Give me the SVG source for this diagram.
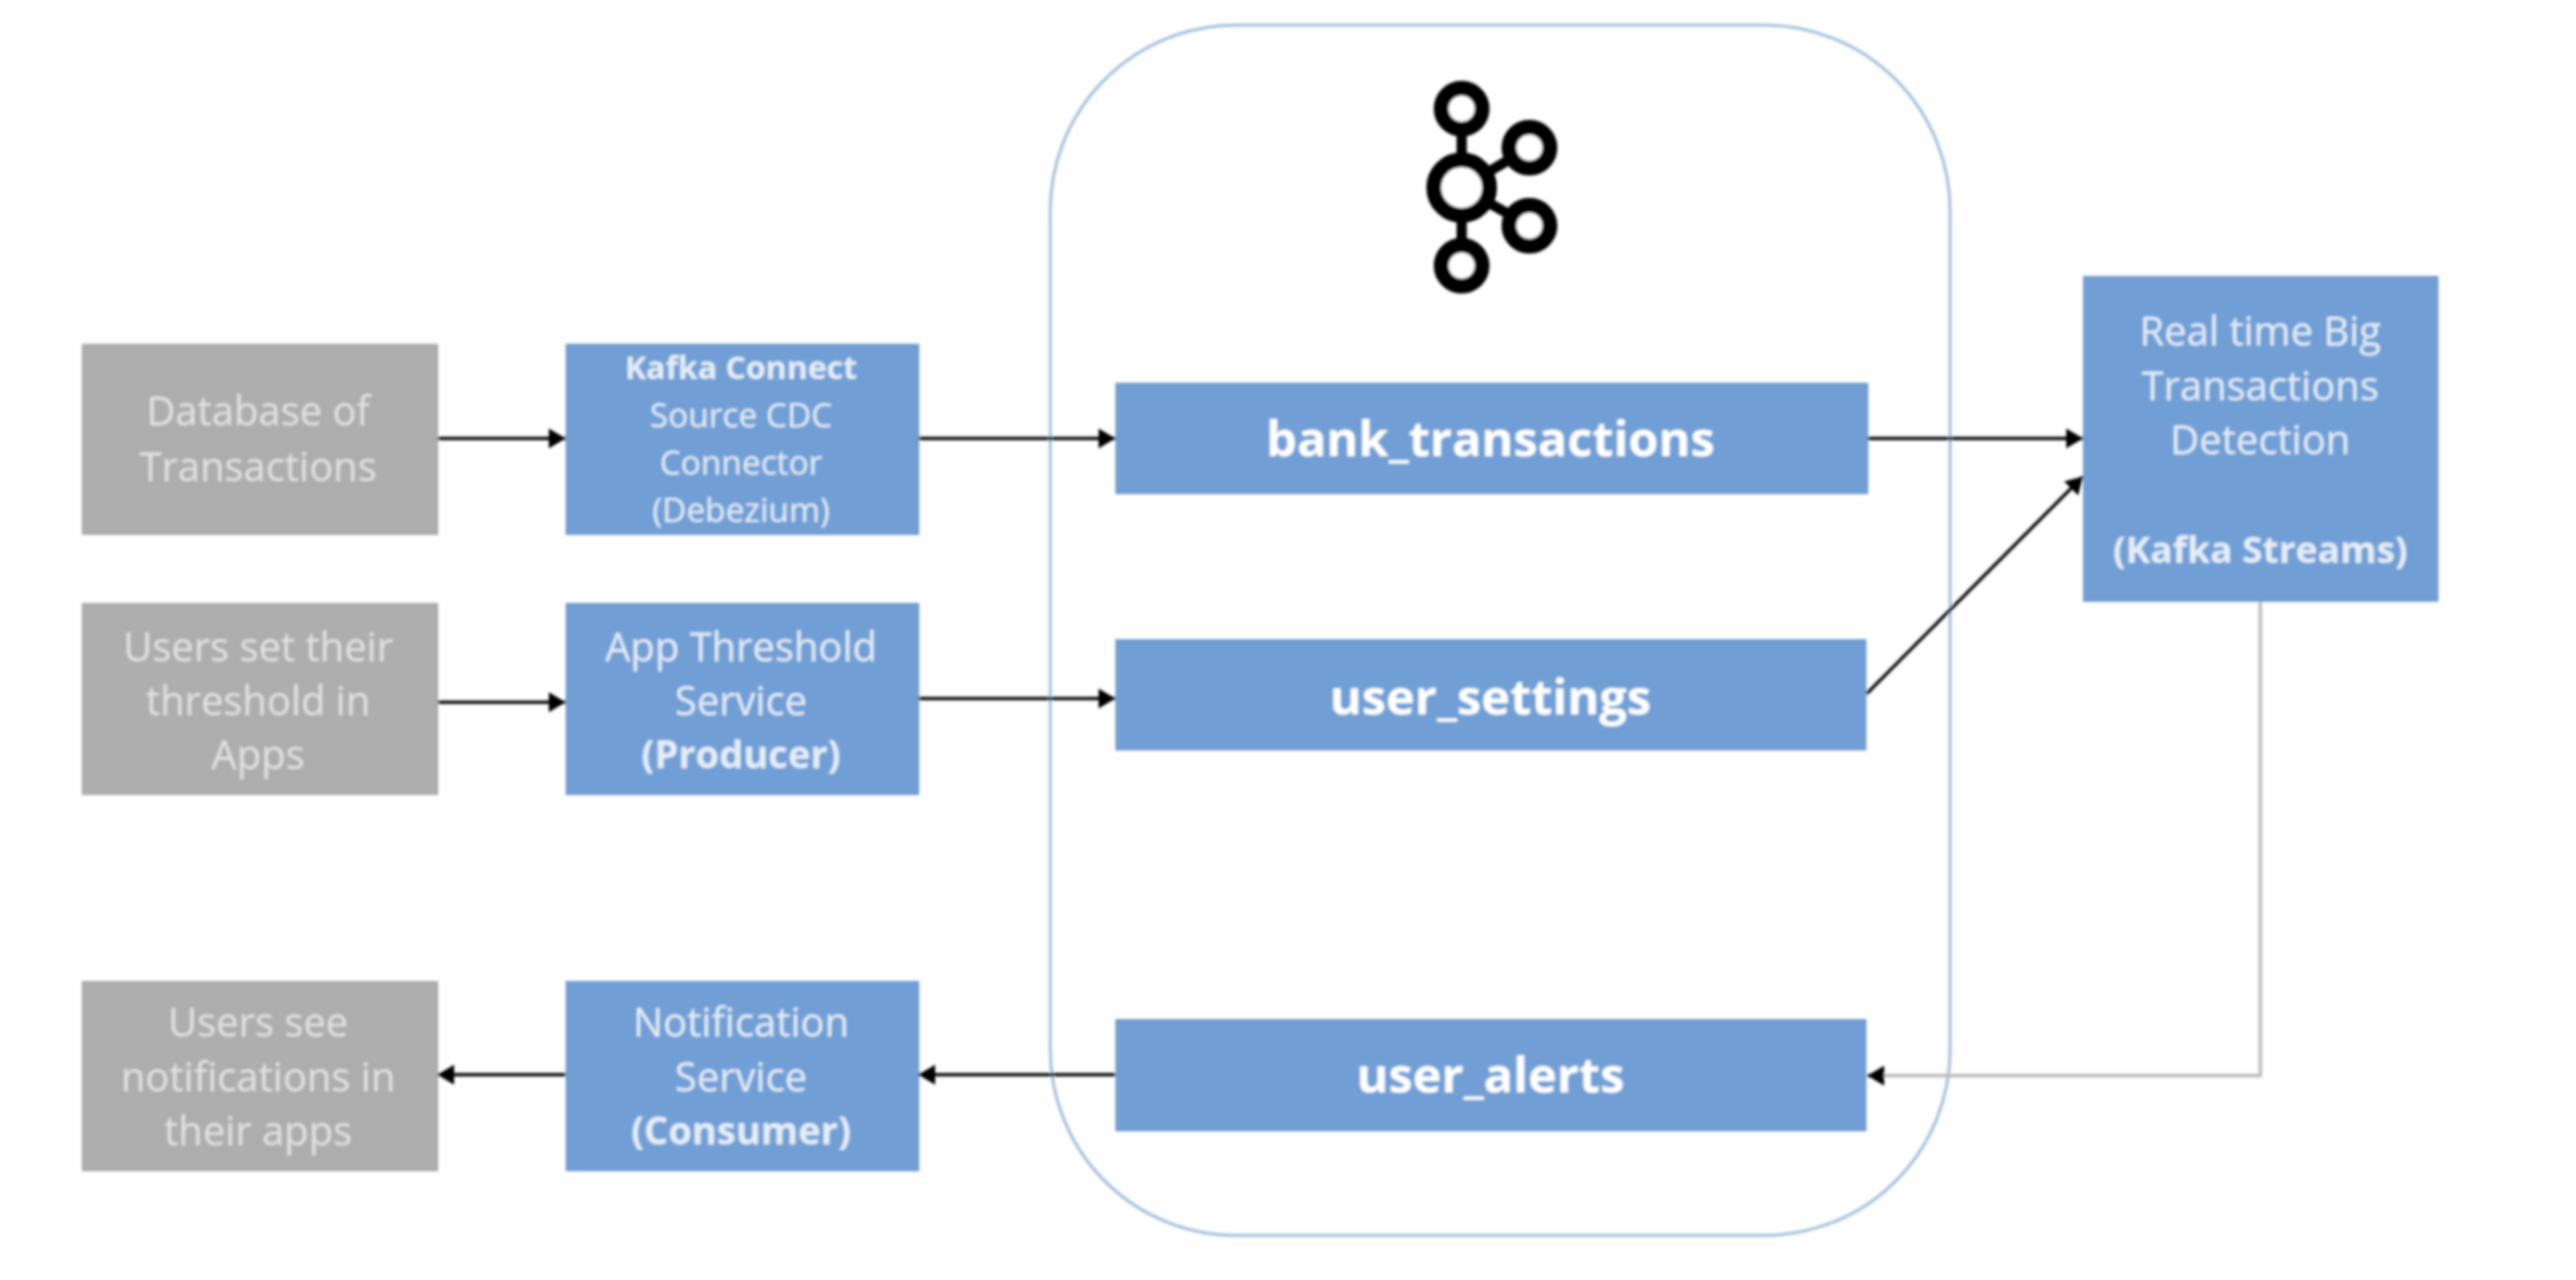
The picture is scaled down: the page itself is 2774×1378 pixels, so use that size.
<svg xmlns="http://www.w3.org/2000/svg" width="2774" height="1378" viewBox="0 0 2774 1378">
<style>
text{font-family:"Open Sans","Noto Sans","Liberation Sans",sans-serif;text-anchor:middle;fill:#e6eef8}
.gray rect{fill:#adadad;stroke:#a3a3a3;stroke-width:1.5}
.blue rect{fill:#719fd5;stroke:#6490c4;stroke-width:1.5}
.s{font-size:43px}
.sb{font-size:41px;font-weight:700}
.g{fill:#e2e2e2}
.k{font-size:36px}
.kb{font-size:34.5px;font-weight:700}
.d{font-size:43px}
.db{font-size:40px;font-weight:700}
.t{font-size:52.5px;font-weight:700;fill:#fff}
.c{fill:none;stroke:#000;stroke-width:3.4}
.logo circle{fill:#fff;stroke:#000;stroke-width:16}
.logo line{stroke:#000;stroke-width:11}
</style>
<defs>
<marker id="a" markerWidth="6.4" markerHeight="6.4" refX="5.4" refY="3.2" orient="auto" markerUnits="strokeWidth"><path d="M0 0L5.4 3.2L0 6.4z" fill="#000"/></marker>
<filter id="soft" x="-2%" y="-2%" width="104%" height="104%"><feGaussianBlur stdDeviation="1.5"/></filter>
</defs>
<rect width="2774" height="1378" fill="#fefefe"/>
<g filter="url(#soft)">
<rect id="kafka-cluster" x="1131" y="27" width="969" height="1303" rx="200" ry="200" fill="none" stroke="#9dbbd9" stroke-width="3"/>
<g id="kafka-logo" class="logo">
<line x1="1574" y1="117" x2="1574" y2="286"/><line x1="1574" y1="202" x2="1647" y2="159"/><line x1="1574" y1="202" x2="1647" y2="243"/>
<circle cx="1574" cy="117" r="22"/><circle cx="1647" cy="159" r="22"/><circle cx="1647" cy="243" r="22"/><circle cx="1574" cy="286" r="22"/><circle cx="1574" cy="202" r="30"/>
</g>
<g id="connectors">
<path class="c" d="M471 472H609" marker-end="url(#a)"/>
<path class="c" d="M989 472H1201" marker-end="url(#a)"/>
<path class="c" d="M2011 472H2243" marker-end="url(#a)"/>
<path class="c" d="M471 756H609" marker-end="url(#a)"/>
<path class="c" d="M989 752H1201" marker-end="url(#a)"/>
<path class="c" d="M2010 747L2243 513" marker-end="url(#a)"/>
<path class="c" style="stroke:#b8b8b8" d="M2434 647V1158H2020"/>
<path class="c" d="M2026 1158H2011" marker-end="url(#a)"/>
<path class="c" d="M1201 1157H989" marker-end="url(#a)"/>
<path class="c" d="M609 1157H471" marker-end="url(#a)"/>
</g>
<g id="database" class="gray"><rect x="89" y="371" width="382" height="204"/><text class="s g" x="278" y="458">Database of</text><text class="s g" x="278" y="518">Transactions</text></g>
<g id="users-set" class="gray"><rect x="89" y="650" width="382" height="205"/><text class="s g" x="278" y="712">Users set their</text><text class="s g" x="278" y="770">threshold in</text><text class="s g" x="278" y="828">Apps</text></g>
<g id="users-see" class="gray"><rect x="89" y="1057" width="382" height="203"/><text class="s g" x="278" y="1116">Users see</text><text class="s g" x="278" y="1175">notifications in</text><text class="s g" x="278" y="1233">their apps</text></g>
<g id="kafka-connect" class="blue"><rect x="610" y="371" width="379" height="204"/><text class="kb" x="798" y="408">Kafka Connect</text><text class="k" x="798" y="460">Source CDC</text><text class="k" x="798" y="511">Connector</text><text class="k" x="798" y="562">(Debezium)</text></g>
<g id="threshold-service" class="blue"><rect x="610" y="650" width="379" height="205"/><text class="s" x="798" y="712">App Threshold</text><text class="s" x="798" y="770">Service</text><text class="sb" x="798" y="827">(Producer)</text></g>
<g id="notification-service" class="blue"><rect x="610" y="1057" width="379" height="203"/><text class="s" x="798" y="1116">Notification</text><text class="s" x="798" y="1175">Service</text><text class="sb" x="798" y="1232">(Consumer)</text></g>
<g id="bank-transactions" class="blue"><rect x="1202" y="413" width="809" height="118"/><text class="t" x="1605" y="491">bank_transactions</text></g>
<g id="user-settings" class="blue"><rect x="1202" y="689" width="807" height="118"/><text class="t" x="1605" y="769">user_settings</text></g>
<g id="user-alerts" class="blue"><rect x="1202" y="1098" width="807" height="119"/><text class="t" x="1605" y="1176">user_alerts</text></g>
<g id="detection" class="blue"><rect x="2244" y="298" width="381" height="349"/><text class="d" x="2434" y="372">Real time Big</text><text class="d" x="2434" y="431">Transactions</text><text class="d" x="2434" y="489">Detection</text><text class="db" x="2434" y="606">(Kafka Streams)</text></g>
</g>
</svg>
